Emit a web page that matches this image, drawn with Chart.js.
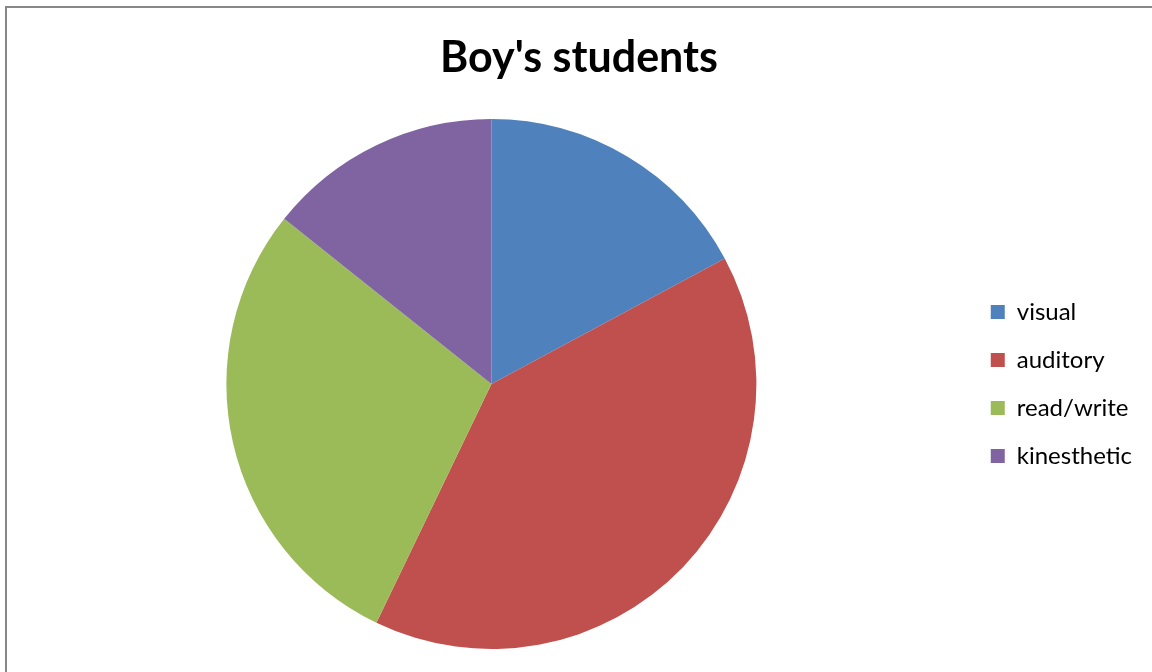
<!DOCTYPE html>
<html>
<head>
<meta charset="utf-8">
<script src="https://cdn.jsdelivr.net/npm/chart.js@4"></script>
<style>
    body { margin: 0; background: #fff; overflow: hidden; }
    #wrap { position: absolute; left: 0; top: 0; width: 1152px; height: 672px; }
    #frame {
        position: absolute; left: 5px; top: 6px; width: 1200px; height: 700px;
        border: 2px solid #878787; pointer-events: none;
    }
</style>
</head>
<body>
<div id="wrap">
    <canvas id="chart" width="1152" height="672"></canvas>
</div>
<div id="frame"></div>
<script>
// --- Data ---
const LABELS = ['visual', 'auditory', 'read/write', 'kinesthetic'];
const VALUES = [12, 28, 20, 10];
const COLORS = ['#4F81BD', '#C0504D', '#9BBB59', '#8064A2'];
const TITLE = "Boy's students";

const FONT = 'Lato, "Open Sans", sans-serif';

const ctx = document.getElementById('chart').getContext('2d');
new Chart(ctx, {
    type: 'pie',
    data: {
        labels: LABELS,
        datasets: [{
            data: VALUES,
            backgroundColor: COLORS,
            borderWidth: 0,
            hoverOffset: 0
        }]
    },
    options: {
        responsive: false,
        animation: false,
        layout: { padding: { left: 16, right: 10, top: 0, bottom: 23 } },
        plugins: {
            title: {
                display: true,
                text: TITLE,
                color: '#000',
                font: { family: FONT, size: 43, weight: 'bold' },
                padding: { top: 32, bottom: 35.4 }
            },
            legend: {
                position: 'right',
                fullSize: false,
                labels: {
                    color: '#000',
                    font: { family: FONT, size: 24 },
                    boxWidth: 14,
                    boxHeight: 14,
                    padding: 24
                }
            },
            tooltip: { enabled: false }
        }
    }
});
</script>
</body>
</html>
